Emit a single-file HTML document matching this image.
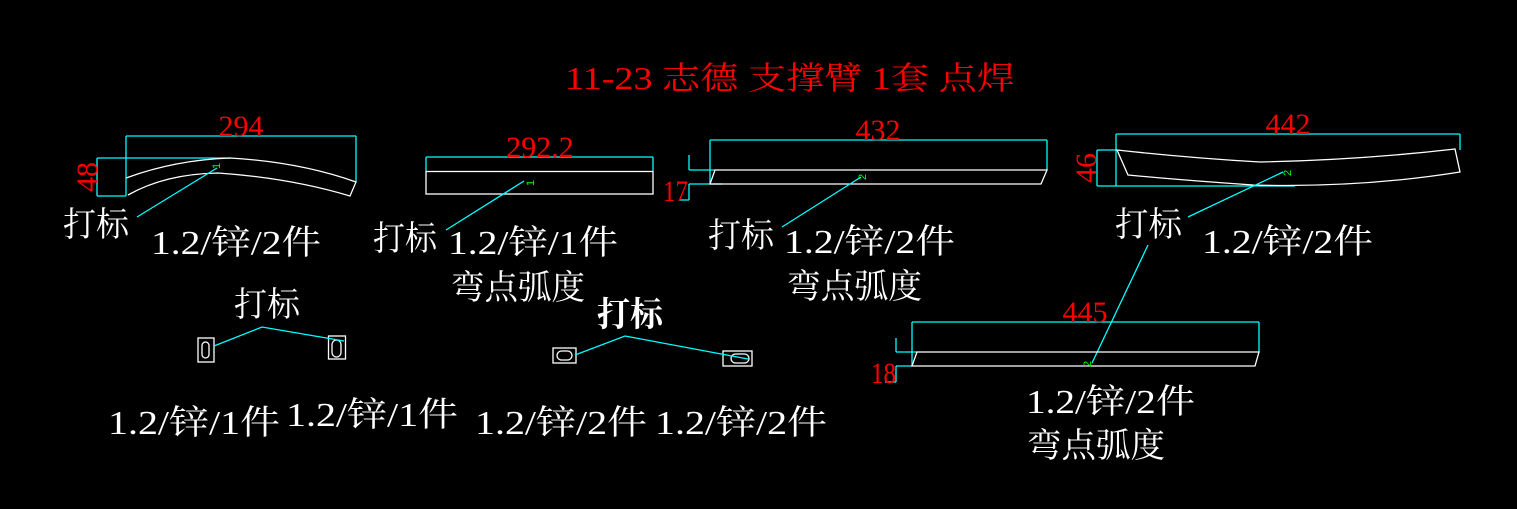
<!DOCTYPE html>
<html><head><meta charset="utf-8"><style>
html,body{margin:0;padding:0;background:#000;}
svg{display:block}
.t{font-family:"Liberation Serif","Noto Serif CJK SC",serif;fill:#fff;font-size:34px}
.r{font-family:"Liberation Serif","Noto Serif CJK SC",serif;fill:#f00;font-size:30px}
.g{font-family:"Liberation Sans",sans-serif;fill:#0f0;font-size:11px}
.c{stroke:#0ff;stroke-width:1.3;fill:none}
.w{stroke:#fff;stroke-width:1.3;fill:none}
</style></head><body>
<svg width="1517" height="509" viewBox="0 0 1517 509" xmlns="http://www.w3.org/2000/svg">
<rect width="1517" height="509" fill="#000"/>
<!-- title -->
<text class="r" x="565" y="89" textLength="450" lengthAdjust="spacingAndGlyphs" style="font-size:32px">11-23 志德 支撑臂 1套 点焊</text>

<!-- Part 1 -->
<path class="c" d="M126 136H356M126 136V196M356 136V182M97 158H230M97 158V196M97 196H126"/>
<path class="w" d="M126 178Q175 160 230 158Q300 162 356 182L350 196Q290 178 218 173Q165 174 128 195"/>
<text class="r" x="241" y="136" text-anchor="middle">294</text>
<text class="r" transform="translate(97,177) rotate(-90)" text-anchor="middle">48</text>
<path class="c" d="M137 217L217 168"/>
<text class="g" x="213" y="170" transform="rotate(-90 216 166)">1</text>
<text class="t" x="63" y="236" textLength="66" lengthAdjust="spacingAndGlyphs">打标</text>
<text class="t" x="151" y="254" textLength="170" lengthAdjust="spacingAndGlyphs">1.2/锌/2件</text>

<!-- Part 2 -->
<path class="c" d="M426 157H653M426 157V171M653 157V171"/>
<rect class="w" x="426" y="171.5" width="227" height="22.5"/>
<text class="r" x="540" y="157" text-anchor="middle">292.2</text>
<path class="c" d="M446 230L524 181"/>
<text class="g" x="526" y="186" transform="rotate(-90 530 182)">1</text>
<text class="t" x="373" y="250" textLength="64" lengthAdjust="spacingAndGlyphs">打标</text>
<text class="t" x="448" y="254" textLength="170" lengthAdjust="spacingAndGlyphs">1.2/锌/1件</text>
<text class="t" x="451" y="299" textLength="134" lengthAdjust="spacingAndGlyphs">弯点弧度</text>

<!-- Part 3 -->
<path class="c" d="M710 140H1047M710 140V184M1047 140V170M689 170H715M689 184H722M689 155V170M689 184V200M680 200H689"/>
<path class="w" d="M715 170H1047L1041 184H710Z"/>
<text class="r" x="878" y="140" text-anchor="middle">432</text>
<text class="r" x="663" y="201" textLength="25" lengthAdjust="spacingAndGlyphs">17</text>
<path class="c" d="M782 227L861 177"/>
<text class="g" x="858" y="180" transform="rotate(-90 862 176)">2</text>
<text class="t" x="708" y="247" textLength="66" lengthAdjust="spacingAndGlyphs">打标</text>
<text class="t" x="784" y="253" textLength="171" lengthAdjust="spacingAndGlyphs">1.2/锌/2件</text>
<text class="t" x="787" y="298" textLength="135" lengthAdjust="spacingAndGlyphs">弯点弧度</text>

<!-- Part 4 -->
<path class="c" d="M1116 134H1460M1116 134V186M1460 134V150M1097 150H1117M1097 150V186M1097 186H1295"/>
<path class="w" d="M1117 150Q1190 158 1260 162Q1360 160 1455 149L1460 172Q1360 188 1253 185Q1180 180 1128 175Z"/>
<text class="r" x="1288" y="134" text-anchor="middle">442</text>
<text class="r" transform="translate(1096,168) rotate(-90)" text-anchor="middle">46</text>
<path class="c" d="M1188 217L1283 172M1148 245L1092 363"/>
<text class="g" x="1283" y="176" transform="rotate(-90 1287 172)">2</text>
<text class="t" x="1115" y="236" textLength="67" lengthAdjust="spacingAndGlyphs">打标</text>
<text class="t" x="1202" y="253" textLength="171" lengthAdjust="spacingAndGlyphs">1.2/锌/2件</text>

<!-- Part 5 -->
<path class="c" d="M912 322H1259M912 322V366M1259 322V352M896 352H917M896 366H912M896 338V352M896 366V382M885 382H896"/>
<path class="w" d="M917 352H1259L1255 366H912Z"/>
<text class="r" x="1085" y="322" text-anchor="middle">445</text>
<text class="r" x="871" y="383" textLength="25" lengthAdjust="spacingAndGlyphs">18</text>
<text class="g" x="1080" y="364" transform="rotate(-90 1087 360)">2</text>
<text class="t" x="1026" y="413" textLength="169" lengthAdjust="spacingAndGlyphs">1.2/锌/2件</text>
<text class="t" x="1027" y="457" textLength="138" lengthAdjust="spacingAndGlyphs">弯点弧度</text>

<!-- small parts -->
<rect class="w" x="198" y="338" width="16" height="24"/>
<rect class="w" x="202" y="342" width="7" height="16" rx="3.5"/>
<rect class="w" x="328.5" y="336" width="17" height="23"/>
<rect class="w" x="332" y="340" width="9" height="17" rx="4.5"/>
<path class="c" d="M214 346L262 327L344 341"/>
<text class="t" x="234" y="316" textLength="66" lengthAdjust="spacingAndGlyphs">打标</text>

<rect class="w" x="553" y="348" width="23" height="15"/>
<rect class="w" x="557" y="351" width="15" height="9" rx="4.5"/>
<rect class="w" x="723" y="351" width="29" height="15"/>
<rect class="w" x="731" y="354" width="18" height="9" rx="4.5"/>
<path class="c" d="M575 355L625 336L748 359"/>
<text class="t" x="597" y="326" textLength="66" lengthAdjust="spacingAndGlyphs" style="font-weight:bold">打标</text>

<text class="t" x="108" y="434" textLength="172" lengthAdjust="spacingAndGlyphs">1.2/锌/1件</text>
<text class="t" x="286" y="426" textLength="172" lengthAdjust="spacingAndGlyphs">1.2/锌/1件</text>
<text class="t" x="475" y="434" textLength="172" lengthAdjust="spacingAndGlyphs">1.2/锌/2件</text>
<text class="t" x="655" y="434" textLength="172" lengthAdjust="spacingAndGlyphs">1.2/锌/2件</text>
</svg>
</body></html>
